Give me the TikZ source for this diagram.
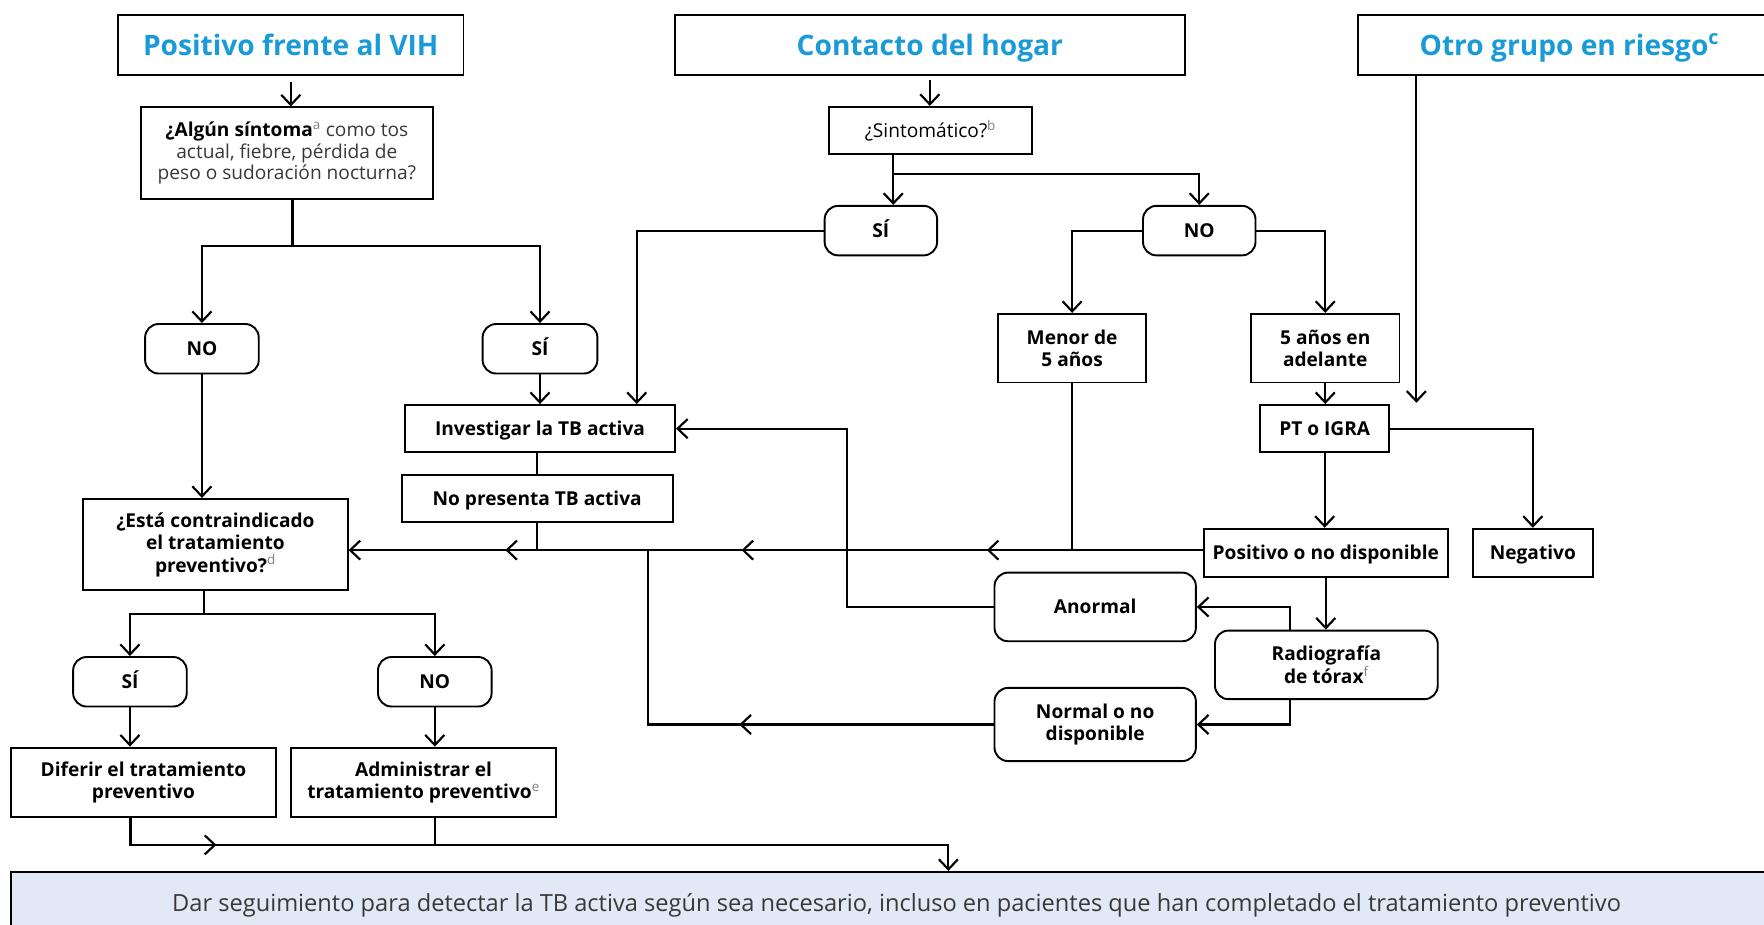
\documentclass[tikz,border=0pt]{standalone}
\usepackage{fontspec}
\setmainfont{Open Sans}
\usetikzlibrary{arrows.meta,decorations.markings,calc}
\definecolor{ttl}{HTML}{1A9BD7}
\definecolor{finfill}{HTML}{E2E9F6}
\definecolor{lite}{HTML}{383838}
\newcommand\fnm[1]{\textsuperscript{\mdseries\color{gray}#1}}
\begin{document}
\begin{tikzpicture}[x=1pt,y=-1pt,
  box/.style={draw, line width=1.7pt, inner sep=0pt, align=center, font=\fontsize{17}{20}\selectfont\bfseries},
  rbox/.style={box, rounded corners=12pt},
  one/.style={text height=12.2pt, text depth=0pt},
  ttlbox/.style={draw, line width=1.7pt, inner sep=0pt, text=ttl, text height=17.9pt, text depth=0pt, font=\fontsize{25}{29}\selectfont\bfseries},
  conn/.style={line width=1.9pt},
  arr/.style={conn, -{Straight Barb[length=9pt,width=17pt]}},
  marr/.style={postaction={decorate, decoration={markings, mark=at position #1 with {\arrow{Straight Barb[length=9pt,width=17pt]}}}}},
  wh/.style 2 args={minimum width=#1pt, minimum height=#2pt}
]
\useasboundingbox (0,0) rectangle (1568,822);

% title boxes
\node[ttlbox, wh={307}{54}] (vih) at (258.5,40) {Positivo frente al VIH};
\node[ttlbox, wh={453}{54}] (hog) at (826.5,40) {Contacto del hogar};
\node[ttlbox, wh={376}{54}] (otro) at (1395,40) {Otro grupo en riesgo\textsuperscript{c}};

% left column
\node[box, wh={260}{81}, font=\fontsize{17}{19.5}\selectfont\mdseries, text=lite] (alg) at (255,136)
  {{\bfseries\color{black}¿Algún síntoma}\fnm{a} como tos\\actual, fiebre, pérdida de\\peso o sudoración nocturna?};
\node[rbox, one, wh={101}{44}] (no1) at (179.5,310) {NO};
\node[rbox, one, wh={102}{44}] (si1) at (480,310) {SÍ};
\node[box, one, wh={240}{42}] (inv) at (480,381) {Investigar la TB activa};
\node[box, one, wh={241}{42}] (nop) at (477.5,443) {No presenta TB activa};
\node[box, wh={235}{81}] (esta) at (191.5,484) {¿Está contraindicado\\el tratamiento\\preventivo?\fnm{d}};
\node[rbox, one, wh={101}{44}] (si2) at (115.5,606) {SÍ};
\node[rbox, one, wh={101}{44}] (no2) at (386.5,606) {NO};
\node[box, wh={235}{62}] (dif) at (127.5,695.5) {Diferir el tratamiento\\preventivo};
\node[box, wh={235}{62}] (adm) at (376.5,695.5) {Administrar el\\tratamiento preventivo\fnm{e}};

% middle / right
\node[box, one, wh={180}{42}, font=\fontsize{17}{20}\selectfont\mdseries] (sin) at (827,116) {¿Sintomático?\fnm{b}};
\node[rbox, one, wh={100}{44}] (si3) at (783,205) {SÍ};
\node[rbox, one, wh={100}{44}] (no3) at (1066,205) {NO};
\node[box, wh={132}{61}] (men) at (953,309.5) {Menor de\\5 años};
\node[box, wh={132}{61}] (may) at (1178,309.5) {5 años en\\adelante};
\node[box, one, wh={115}{42}] (pt) at (1177.5,381) {PT o IGRA};
\node[box, one, wh={217}{43}] (pos) at (1178.5,491.5) {Positivo o no disponible};
\node[box, one, wh={107}{43}] (neg) at (1362.5,491.5) {Negativo};
\node[rbox, wh={198}{61}] (rad) at (1179,591) {Radiografía\\de tórax\fnm{f}};
\node[rbox, one, wh={179}{61}] (anor) at (973.5,539.5) {Anormal};
\node[rbox, wh={179}{65}] (norm) at (973.5,644) {Normal o no\\disponible};

% bottom box
\node[draw, line width=1.7pt, fill=finfill, inner sep=0pt, wh={1574}{56}, text=lite,
  text height=15pt, text depth=0pt, font=\fontsize{21}{24}\selectfont] (fin) at (797,803)
  {Dar seguimiento para detectar la TB activa según sea necesario, incluso en pacientes que han completado el tratamiento preventivo};

% helper coordinates
\coordinate (a1) at (260,219);
\coordinate (j1) at (477,489);
\coordinate (j3) at (576,489);
\coordinate (e1) at (181,546);
\coordinate (b1) at (116,751);
\coordinate (b2) at (843,751);
\coordinate (s1) at (794,155);
\coordinate (s2) at (566,381);
\coordinate (o1) at (1259,358);
\coordinate (r1) at (1147,590);
\coordinate (c2) at (753,381);

% connectors: left
\draw[arr] ([yshift=-5pt]vih.south) -- (vih.south |- alg.north);
\draw[conn] (alg.south -| a1) -- (a1);
\draw[arr] (a1) -| (no1.north);
\draw[arr] (a1) -| (si1.north);
\draw[arr] (no1.south) -- (no1.south |- esta.north);
\draw[arr] (si1.south) -- (si1.south |- inv.north);
\draw[conn] (nop.north |- inv.south) -- (nop.north);
\draw[conn] (nop.south) -- (nop.south |- j1);
\draw[arr, marr=192pt, marr=410pt, marr=620pt] (pos.west |- j1) -- (esta.east |- j1);
\draw[conn] (esta.south -| e1) -- (e1);
\draw[arr] (e1) -| (si2.north);
\draw[arr] (e1) -| (no2.north);
\draw[arr] (si2.south) -- (si2.south |- dif.north);
\draw[arr] (no2.south) -- (no2.south |- adm.north);
\draw[arr, marr=100pt] (dif.south -| b1) -- (b1) -- (b2) -- (b2 |- fin.north);
\draw[conn] (no2.south |- adm.south) -- (no2.south |- b1);

% connectors: middle / right
\draw[arr] ([yshift=-3pt]hog.south) -- (hog.south |- sin.north);
\draw[conn] (sin.south -| s1) -- (s1);
\draw[arr] (s1) -- (s1 |- si3.north);
\draw[arr] (s1) -| (no3.north);
\draw[arr] (si3.west) -| (s2 |- inv.north);
\draw[arr] (no3.west) -| (men.north);
\draw[arr] (no3.east) -| (may.north);
\draw[conn] (men.south) -- (men.south |- j1);
\draw[arr] (may.south) -- (may.south |- pt.north);
\draw[arr] (otro.south -| o1) -- (o1);
\draw[arr] (pt.east) -| (neg.north);
\draw[arr] (pt.south) -- (pt.south |- pos.north);
\draw[arr] (pos.south) -- (pos.south |- rad.north);
\draw[arr] (rad.north -| r1) |- (anor.east);
\draw[arr] (rad.south -| r1) |- (norm.east);
\draw[arr] (anor.west) -| (c2) -- (inv.east);
\draw[conn, marr=226pt] (norm.west) -| (j3);
\end{tikzpicture}
\end{document}
